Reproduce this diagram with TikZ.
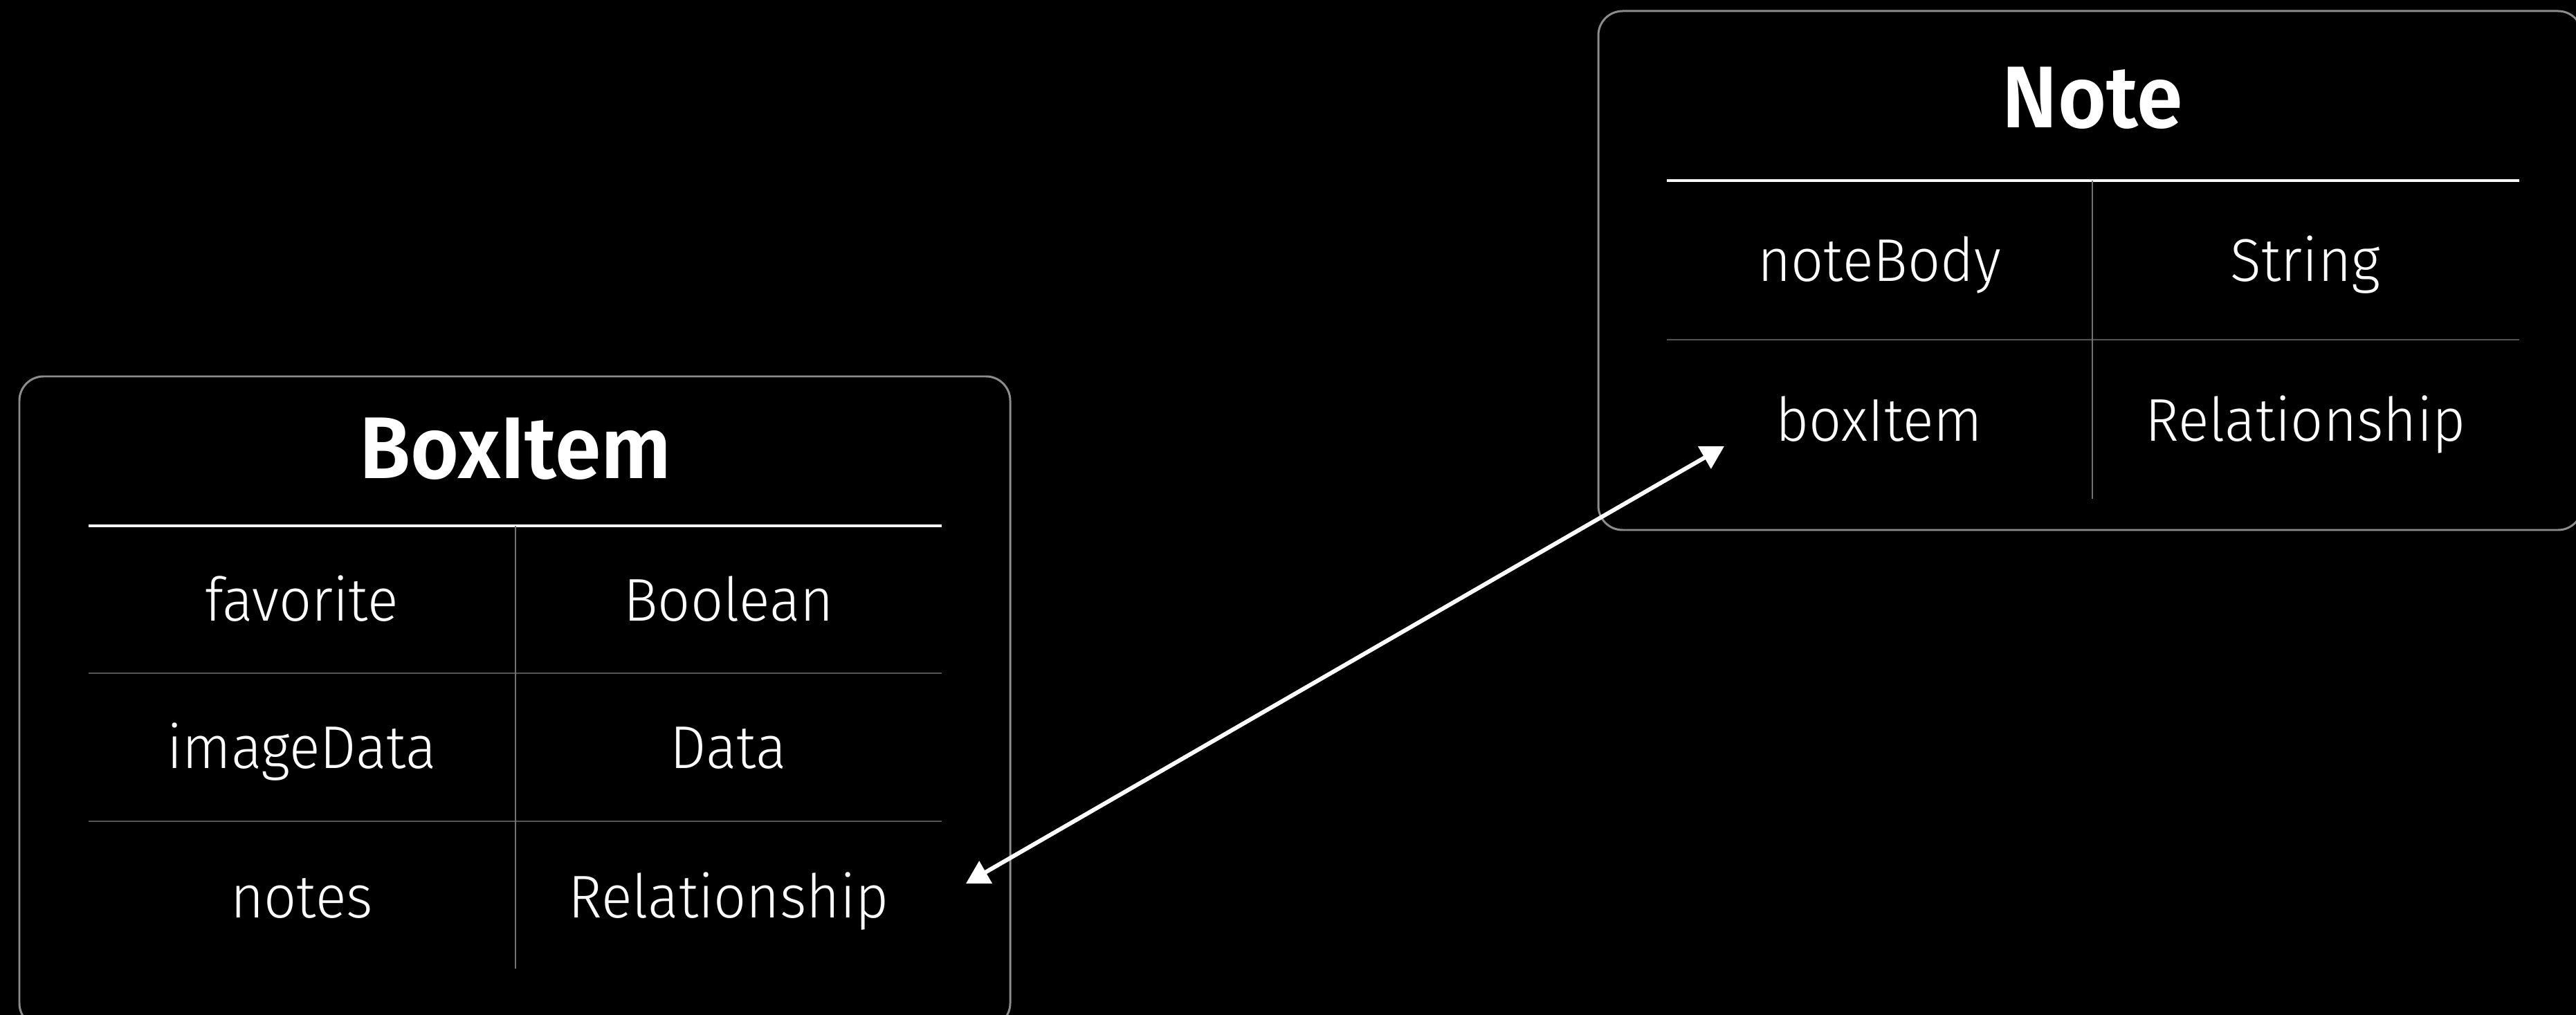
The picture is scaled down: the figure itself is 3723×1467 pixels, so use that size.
\documentclass[tikz,border=0pt]{standalone}
\usepackage{fontspec}
\setmainfont{Fira Sans}[UprightFont=* Light, BoldFont=* SemiBold, FakeStretch=0.95]
\usetikzlibrary{arrows.meta}
\definecolor{framegray}{gray}{0.55}
\definecolor{rulegray}{gray}{0.33}
\definecolor{splitgray}{gray}{0.45}

\begin{document}
\begin{tikzpicture}[x=0.01cm,y=-0.01cm,
  every node/.style={text=white,inner sep=0pt},
  entitybox/.style={draw=framegray,line width=0.85pt,rounded corners=0.35cm},
  headrule/.style={draw=white,line width=1.4pt},
  rowrule/.style={draw=rulegray,line width=0.85pt},
  colrule/.style={draw=splitgray,line width=0.6pt},
  entityname/.style={anchor=base,font=\fontsize{36}{40}\selectfont\bfseries},
  attrtext/.style={anchor=base,font=\fontsize{24.8}{28}\selectfont},
  relation/.style={draw=white,line width=1.7pt,>={Triangle[length=0.33cm,width=0.36cm]},<->}]
\useasboundingbox (0,0) rectangle (3723,1467);
\clip (0,0) rectangle (3723,1467);
\fill[black] (0,0) rectangle (3723,1467);
\draw[entitybox] (28,544) rectangle (1460,1485);
\draw[headrule] (128,760) -- (1361,760);
\draw[rowrule] (128,973) -- (1361,973);
\draw[rowrule] (128,1187) -- (1361,1187);
\draw[colrule] (745,760) -- (745,1400);
\node[entityname] (boxitem) at (745,692) {BoxItem};
\node[attrtext] (favorite) at (436,897) {favorite};
\node[attrtext] (favoriteType) at (1053,897) {Boolean};
\node[attrtext] (imageData) at (436,1110) {imageData};
\node[attrtext] (imageDataType) at (1053,1110) {Data};
\node[attrtext] (notes) at (436,1326) {notes};
\node[attrtext] (notesType) at (1053,1326) {Relationship};
\draw[entitybox] (2310,16) rectangle (3732,766);
\draw[headrule] (2409,261) -- (3641,261);
\draw[rowrule] (2409,491) -- (3641,491);
\draw[colrule] (3024,261) -- (3024,721);
\node[entityname] (note) at (3024,185) {Note};
\node[attrtext] (noteBody) at (2716,407) {noteBody};
\node[attrtext] (noteBodyType) at (3332,407) {String};
\node[attrtext] (boxItem) at (2716,638) {boxItem};
\node[attrtext] (boxItemType) at (3332,638) {Relationship};
\coordinate (notesEnd) at (1396,1277);
\coordinate (boxItemEnd) at (2492,645);
\draw[relation] (notesEnd) -- (boxItemEnd);
\end{tikzpicture}
\end{document}
